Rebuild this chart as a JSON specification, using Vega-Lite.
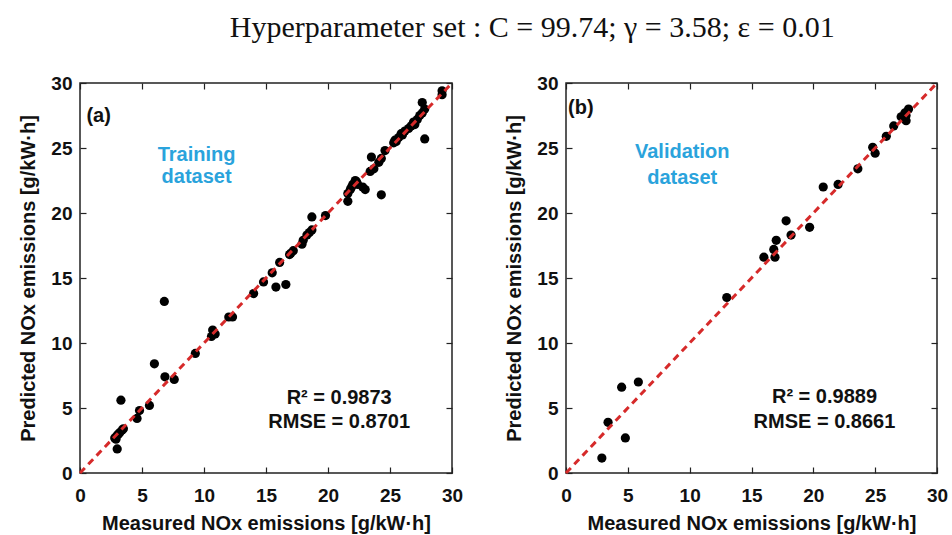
{
  "$schema": "https://vega.github.io/schema/vega-lite/v6.json",
  "autosize": {"type": "pad"},
  "padding": {"left": 18, "top": 13, "right": 10, "bottom": 2},
  "background": "white",
  "config": {
    "view": {"stroke": "#222222", "strokeWidth": 1.5},
    "font": "Liberation Sans",
    "axis": {
      "grid": false,
      "domain": false,
      "tickColor": "#222222",
      "tickWidth": 1.2,
      "tickSize": 6,
      "offset": -6,
      "labelFont": "Liberation Sans",
      "labelFontSize": 19,
      "labelFontWeight": "bold",
      "labelColor": "#111111",
      "titleFont": "Liberation Sans",
      "titleFontSize": 20,
      "titleFontWeight": "bold",
      "titleColor": "#111111",
      "labelFlush": false,
      "labelOverlap": false
    }
  },
  "title": {
    "text": "Hyperparameter set :  C  = 99.74;  γ = 3.58;  ε = 0.01",
    "font": "Liberation Serif",
    "fontSize": 30,
    "fontWeight": "normal",
    "color": "#111111",
    "anchor": "middle",
    "offset": 30,
    "dx": 49
  },
  "datasets": {
    "diag": [{"x": 0, "y": 0}, {"x": 30, "y": 30}],
    "train": [
      {"measured": 2.9, "predicted": 2.6}, {"measured": 3.0, "predicted": 2.9}, {"measured": 3.2, "predicted": 3.1},
      {"measured": 3.5, "predicted": 3.4}, {"measured": 3.0, "predicted": 1.85}, {"measured": 3.3, "predicted": 5.6},
      {"measured": 2.8, "predicted": 2.7}, {"measured": 3.1, "predicted": 3.0}, {"measured": 3.4, "predicted": 3.3},
      {"measured": 4.6, "predicted": 4.2}, {"measured": 4.8, "predicted": 4.8}, {"measured": 5.6, "predicted": 5.2},
      {"measured": 6.0, "predicted": 8.4}, {"measured": 6.8, "predicted": 13.2}, {"measured": 6.85, "predicted": 7.4},
      {"measured": 7.6, "predicted": 7.2}, {"measured": 9.3, "predicted": 9.2}, {"measured": 10.7, "predicted": 11.0},
      {"measured": 10.6, "predicted": 10.5}, {"measured": 10.9, "predicted": 10.7}, {"measured": 12.0, "predicted": 12.0},
      {"measured": 12.3, "predicted": 12.0}, {"measured": 14.0, "predicted": 13.8}, {"measured": 14.8, "predicted": 14.7},
      {"measured": 15.5, "predicted": 15.4}, {"measured": 15.8, "predicted": 14.3}, {"measured": 16.6, "predicted": 14.5},
      {"measured": 16.1, "predicted": 16.2}, {"measured": 16.9, "predicted": 16.8}, {"measured": 17.2, "predicted": 17.1},
      {"measured": 17.0, "predicted": 16.9}, {"measured": 17.9, "predicted": 17.6}, {"measured": 18.0, "predicted": 17.9},
      {"measured": 18.3, "predicted": 18.3}, {"measured": 18.5, "predicted": 18.5}, {"measured": 18.7, "predicted": 18.7},
      {"measured": 18.7, "predicted": 19.7}, {"measured": 19.8, "predicted": 19.8}, {"measured": 21.6, "predicted": 20.9},
      {"measured": 21.6, "predicted": 21.5}, {"measured": 21.8, "predicted": 21.8}, {"measured": 22.0, "predicted": 22.2},
      {"measured": 21.9, "predicted": 22.0}, {"measured": 22.2, "predicted": 22.5}, {"measured": 22.4, "predicted": 22.2},
      {"measured": 22.3, "predicted": 22.4}, {"measured": 23.0, "predicted": 21.8}, {"measured": 22.8, "predicted": 22.0},
      {"measured": 24.3, "predicted": 21.4}, {"measured": 23.5, "predicted": 24.3}, {"measured": 23.7, "predicted": 23.4},
      {"measured": 23.4, "predicted": 23.2}, {"measured": 24.1, "predicted": 23.9}, {"measured": 24.3, "predicted": 24.2},
      {"measured": 24.6, "predicted": 24.8}, {"measured": 25.3, "predicted": 25.4}, {"measured": 25.4, "predicted": 25.6},
      {"measured": 25.7, "predicted": 25.8}, {"measured": 25.9, "predicted": 26.1}, {"measured": 26.2, "predicted": 26.3},
      {"measured": 26.5, "predicted": 26.5}, {"measured": 26.7, "predicted": 26.7}, {"measured": 26.9, "predicted": 27.0},
      {"measured": 27.2, "predicted": 27.2}, {"measured": 27.4, "predicted": 27.5}, {"measured": 27.6, "predicted": 27.7},
      {"measured": 27.8, "predicted": 28.0}, {"measured": 27.6, "predicted": 28.5}, {"measured": 27.8, "predicted": 25.7},
      {"measured": 29.2, "predicted": 29.4}, {"measured": 29.2, "predicted": 29.1}, {"measured": 26.0, "predicted": 26.0},
      {"measured": 27.0, "predicted": 26.8}, {"measured": 25.5, "predicted": 25.5}
    ],
    "valid": [
      {"measured": 27.7, "predicted": 28.0}, {"measured": 27.4, "predicted": 27.7}, {"measured": 27.5, "predicted": 27.5},
      {"measured": 27.1, "predicted": 27.4}, {"measured": 27.5, "predicted": 27.1}, {"measured": 26.5, "predicted": 26.7},
      {"measured": 25.9, "predicted": 25.9}, {"measured": 24.8, "predicted": 25.05}, {"measured": 25.0, "predicted": 24.6},
      {"measured": 23.6, "predicted": 23.4}, {"measured": 22.0, "predicted": 22.2}, {"measured": 20.8, "predicted": 22.0},
      {"measured": 19.7, "predicted": 18.9}, {"measured": 17.8, "predicted": 19.4}, {"measured": 18.2, "predicted": 18.3},
      {"measured": 17.0, "predicted": 17.9}, {"measured": 16.8, "predicted": 17.2}, {"measured": 16.9, "predicted": 16.6},
      {"measured": 16.0, "predicted": 16.6}, {"measured": 13.0, "predicted": 13.5}, {"measured": 5.85, "predicted": 7.0},
      {"measured": 4.5, "predicted": 6.6}, {"measured": 3.4, "predicted": 3.9}, {"measured": 4.8, "predicted": 2.7},
      {"measured": 2.9, "predicted": 1.15}
    ],
    "labelsA": [
      {"x": 1.5, "y": 27.5, "t": "(a)", "kind": "panel"},
      {"x": 9.4, "y": 24.5, "t": "Training", "kind": "set"},
      {"x": 9.4, "y": 22.8, "t": "dataset", "kind": "set"},
      {"x": 20.9, "y": 5.8, "t": "R² = 0.9873", "kind": "stat"},
      {"x": 20.9, "y": 3.95, "t": "RMSE = 0.8701", "kind": "stat"}
    ],
    "labelsB": [
      {"x": 1.2, "y": 28.1, "t": "(b)", "kind": "panel"},
      {"x": 9.4, "y": 24.7, "t": "Validation", "kind": "set"},
      {"x": 9.4, "y": 22.7, "t": "dataset", "kind": "set"},
      {"x": 20.9, "y": 5.87, "t": "R² = 0.9889", "kind": "stat"},
      {"x": 20.9, "y": 3.95, "t": "RMSE = 0.8661", "kind": "stat"}
    ]
  },
  "spacing": 40,
  "hconcat": [
    {
      "width": 372,
      "height": 390,
      "resolve": {"axis": {"x": "independent", "y": "independent"}},
      "layer": [
        {
          "data": {"name": "train"},
          "mark": {"type": "circle", "size": 85, "color": "#000000", "opacity": 1},
          "encoding": {
            "x": {"field": "measured", "type": "quantitative", "scale": {"domain": [0, 30], "nice": false},
                  "axis": {"orient": "bottom", "values": [0, 5, 10, 15, 20, 25, 30], "title": "Measured NOx emissions [g/kW·h]", "labelPadding": 13, "titlePadding": 8}},
            "y": {"field": "predicted", "type": "quantitative", "scale": {"domain": [0, 30], "nice": false},
                  "axis": {"orient": "left", "values": [0, 5, 10, 15, 20, 25, 30], "title": "Predicted NOx emissions [g/kW·h]", "labelPadding": 8, "titlePadding": 12}}
          }
        },
        {
          "data": {"name": "diag"},
          "mark": {"type": "line", "color": "#d62a2a", "strokeDash": [7, 5], "strokeWidth": 3},
          "encoding": {
            "x": {"field": "x", "type": "quantitative", "axis": {"orient": "top", "values": [0, 5, 10, 15, 20, 25, 30], "labels": false, "title": null}},
            "y": {"field": "y", "type": "quantitative", "axis": {"orient": "right", "values": [0, 5, 10, 15, 20, 25, 30], "labels": false, "title": null}}
          }
        },
        {
          "data": {"name": "labelsA"},
          "mark": {"type": "text", "fontWeight": "bold", "fontSize": 20, "font": "Liberation Sans"},
          "encoding": {
            "x": {"field": "x", "type": "quantitative", "axis": null},
            "y": {"field": "y", "type": "quantitative", "axis": null},
            "text": {"field": "t"},
            "align": {"condition": {"test": "datum.kind === 'panel'", "value": "left"}, "value": "center"},
            "color": {"condition": {"test": "datum.kind === 'set'", "value": "#2aa3dc"}, "value": "#111111"}
          }
        }
      ]
    },
    {
      "width": 371,
      "height": 390,
      "resolve": {"axis": {"x": "independent", "y": "independent"}},
      "layer": [
        {
          "data": {"name": "valid"},
          "mark": {"type": "circle", "size": 85, "color": "#000000", "opacity": 1},
          "encoding": {
            "x": {"field": "measured", "type": "quantitative", "scale": {"domain": [0, 30], "nice": false},
                  "axis": {"orient": "bottom", "values": [0, 5, 10, 15, 20, 25, 30], "title": "Measured NOx emissions [g/kW·h]", "labelPadding": 13, "titlePadding": 8}},
            "y": {"field": "predicted", "type": "quantitative", "scale": {"domain": [0, 30], "nice": false},
                  "axis": {"orient": "left", "values": [0, 5, 10, 15, 20, 25, 30], "title": "Predicted NOx emissions [g/kW·h]", "labelPadding": 8, "titlePadding": 12}}
          }
        },
        {
          "data": {"name": "diag"},
          "mark": {"type": "line", "color": "#d62a2a", "strokeDash": [7, 5], "strokeWidth": 3},
          "encoding": {
            "x": {"field": "x", "type": "quantitative", "axis": {"orient": "top", "values": [0, 5, 10, 15, 20, 25, 30], "labels": false, "title": null}},
            "y": {"field": "y", "type": "quantitative", "axis": {"orient": "right", "values": [0, 5, 10, 15, 20, 25, 30], "labels": false, "title": null}}
          }
        },
        {
          "data": {"name": "labelsB"},
          "mark": {"type": "text", "fontWeight": "bold", "fontSize": 20, "font": "Liberation Sans"},
          "encoding": {
            "x": {"field": "x", "type": "quantitative", "axis": null},
            "y": {"field": "y", "type": "quantitative", "axis": null},
            "text": {"field": "t"},
            "align": {"condition": {"test": "datum.kind === 'panel'", "value": "left"}, "value": "center"},
            "color": {"condition": {"test": "datum.kind === 'set'", "value": "#2aa3dc"}, "value": "#111111"}
          }
        }
      ]
    }
  ]
}
